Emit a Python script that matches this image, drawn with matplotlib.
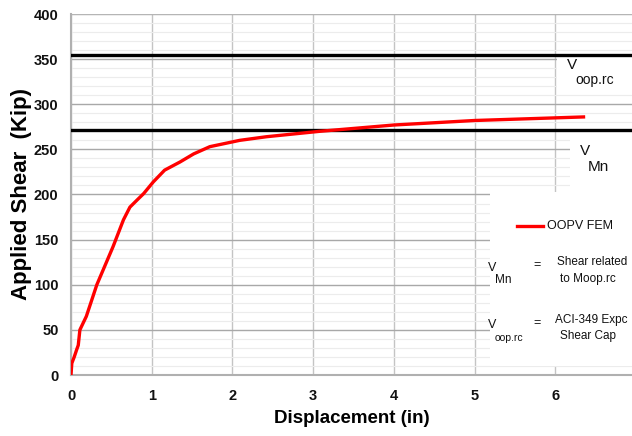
import matplotlib
matplotlib.use("Agg")
import matplotlib.pyplot as plt
from matplotlib.patches import Rectangle
from matplotlib.ticker import FixedLocator, MultipleLocator

# ---- data ----
disp = [0.0, 0.01, 0.04, 0.07, 0.09, 0.11, 0.19, 0.32, 0.52, 0.65, 0.73, 0.82, 0.90, 1.02,
        1.16, 1.35, 1.52, 1.72, 2.09, 2.42, 3.08, 4.0, 5.0, 6.37]
shear = [0, 13, 20, 28, 33, 50, 65, 100, 142, 172, 186, 194, 201, 214,
         227, 236, 245, 253, 260, 264, 270, 277, 282, 286]
v_oop_rc = 355
v_mn = 271
x_ticks = [0, 1, 2, 3, 4, 5, 6]
y_ticks = [0, 50, 100, 150, 200, 250, 300, 350, 400]

font = 'Liberation Sans'

W, H = 632, 436
fig = plt.figure(figsize=(W / 100, H / 100), dpi=100)
ax = fig.add_axes([71 / W, (H - 375) / H, (W - 71) / W, (375 - 14) / H])
ax.set_xlim(0, 6.95)
ax.set_ylim(0, 400)

ax.xaxis.set_major_locator(FixedLocator(x_ticks))
ax.yaxis.set_major_locator(FixedLocator(y_ticks))
ax.yaxis.set_minor_locator(MultipleLocator(10))
ax.set_xticklabels([str(v) for v in x_ticks])
ax.set_yticklabels([str(v) for v in y_ticks])
ax.grid(True, which='major', axis='y', color='#a8a8a8', lw=1.0, zorder=1)
ax.grid(True, which='major', axis='x', color='#c4c4c4', lw=1.0, zorder=1)
ax.grid(True, which='minor', axis='y', color='#ececec', lw=0.8, zorder=0.5)
ax.set_axisbelow(True)
ax.tick_params(which='both', length=0)
ax.tick_params(axis='y', pad=9)
ax.tick_params(axis='x', pad=10)
for lab in ax.get_xticklabels() + ax.get_yticklabels():
    lab.set_fontfamily(font)
    lab.set_fontweight('bold')
    lab.set_fontsize(10.5)
    lab.set_color('#111111')

for s in ['top', 'right']:
    ax.spines[s].set_visible(False)
for s in ['left', 'bottom']:
    ax.spines[s].set_color('#b0b0b0')
    ax.spines[s].set_linewidth(1.5)
ax.axhline(400, color='#b8b8b8', lw=1.2, zorder=1)

# white boxes covering grid behind labels / legend
for (x0, y0, x1, y1) in [(6.02, 312, 7.0, 354), (6.18, 203, 7.0, 268), (5.19, 10.5, 7.0, 203)]:
    ax.add_patch(Rectangle((x0, y0), x1 - x0, y1 - y0, facecolor='white',
                           edgecolor='none', zorder=1.5))

ax.axhline(v_oop_rc, color='black', lw=2.4, zorder=3)
ax.axhline(v_mn, color='black', lw=2.4, zorder=3)
ax.plot(disp, shear, color='#ff0000', lw=2.4, zorder=4, solid_capstyle='butt')

ax.set_xlabel('Displacement (in)', fontfamily=font, fontweight='bold', fontsize=13.5, labelpad=5)
ax.set_ylabel('Applied Shear  (Kip)', fontfamily=font, fontweight='bold', fontsize=16, labelpad=1)


def ftxt(x, y, s, size=10, ha='left'):
    fig.text(x / W, 1 - y / H, s, fontfamily=font, fontsize=size, ha=ha, va='center', color='#111111')


# labels near lines
ftxt(567, 65, 'V', 11)
ftxt(575, 80, 'oop.rc', 10)
ftxt(580, 151, 'V', 11)
ftxt(588, 167, 'Mn', 11)

# legend
fig.add_artist(plt.Line2D([517 / W, 543 / W], [1 - 226 / H, 1 - 226 / H], color='#ff0000', lw=2.4))
ftxt(547, 226, 'OOPV FEM', 9)
ftxt(488, 268, 'V', 9)
ftxt(495, 280, 'Mn', 8.5)
ftxt(533, 265, '=', 9)
ftxt(557, 262, 'Shear related', 8.5)
ftxt(560, 279, 'to Moop.rc', 8.5)
ftxt(488, 325, 'V', 9)
ftxt(495, 338, 'oop.rc', 7.5)
ftxt(533, 323, '=', 9)
ftxt(555, 320, 'ACI-349 Expc', 8.5)
ftxt(560, 336, 'Shear Cap', 8.5)

fig.savefig('out.png', dpi=100)
